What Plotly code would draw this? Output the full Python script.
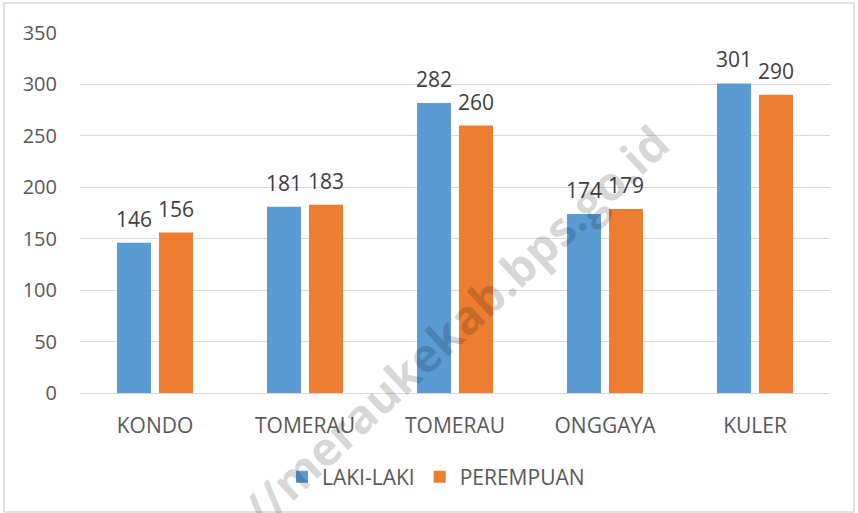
import plotly.graph_objects as go

categories = ["KONDO", "TOMERAU", "TOMERAU", "ONGGAYA", "KULER"]
laki_laki = [146, 181, 282, 174, 301]
perempuan = [156, 183, 260, 179, 290]
y_ticks = [0, 50, 100, 150, 200, 250, 300, 350]

FONT = "Open Sans, sans-serif"
positions = list(range(len(categories)))
BARGAP = 0.44
GROUPGAP = 0.19

fig = go.Figure()
fig.add_trace(go.Bar(x=positions, y=laki_laki, name="LAKI-LAKI",
                     marker=dict(color="#5b9bd5", line=dict(width=0))))
fig.add_trace(go.Bar(x=positions, y=perempuan, name="PEREMPUAN",
                     marker=dict(color="#ed7d31", line=dict(width=0))))

W, H = 858, 513
L, R, T, B = 80, 28, 33, 120
pw, ph = W - L - R, H - T - B

def px(x):
    return (x - L) / pw

def py(y):
    return (H - B - y) / ph

annotations = []
slot = (1 - BARGAP) / 2
for series, off in ((laki_laki, -slot / 2), (perempuan, slot / 2)):
    for i, v in zip(positions, series):
        annotations.append(dict(x=i + off, y=v, xref="x", yref="y", text=str(v),
                                showarrow=False, yanchor="bottom", xanchor="center",
                                yshift=8,
                                font=dict(size=21, color="#404040", family=FONT)))

annotations.append(dict(text="http://meraukekab.bps.go.id", xref="paper", yref="paper",
                        x=px(413), y=py(365), showarrow=False, textangle=-43,
                        font=dict(size=47, color="rgba(0,0,0,0.16)",
                                  family="Open Sans, sans-serif", weight="bold"),
                        xanchor="center", yanchor="middle"))

fig.update_layout(
    width=W, height=H,
    margin=dict(l=L, r=R, t=T, b=B, autoexpand=False),
    paper_bgcolor="white", plot_bgcolor="white",
    barmode="group", bargap=BARGAP, bargroupgap=GROUPGAP,
    font=dict(family=FONT, color="#595959", size=20),
    showlegend=True,
    legend=dict(orientation="h", x=px(436), xanchor="center",
                yref="container", y=1 - 477 / H, yanchor="middle",
                font=dict(size=21, color="#595959"),
                traceorder="normal"),
    xaxis=dict(tickmode="array", tickvals=positions, ticktext=categories,
               range=[-0.5, len(categories) - 0.5], showgrid=False,
               showline=False, zeroline=False, ticks="",
               ticklabelstandoff=18, tickfont=dict(size=21, color="#595959")),
    yaxis=dict(range=[0, 350], tickmode="array", tickvals=y_ticks,
               showgrid=True, gridcolor="#d9d9d9", gridwidth=1.3,
               zeroline=True, zerolinecolor="#d9d9d9", zerolinewidth=1.3,
               showline=False, ticks="", ticklabelstandoff=22,
               tickfont=dict(size=20, color="#595959")),
    shapes=[dict(type="rect", xref="paper", yref="paper",
                 x0=px(4), x1=px(854), y0=py(512), y1=py(3),
                 line=dict(color="#d9d9d9", width=1.5), layer="below")],
    annotations=annotations,
)

fig.write_html("out.html", config={"displayModeBar": False},
               post_script="document.body.style.margin='0';")
